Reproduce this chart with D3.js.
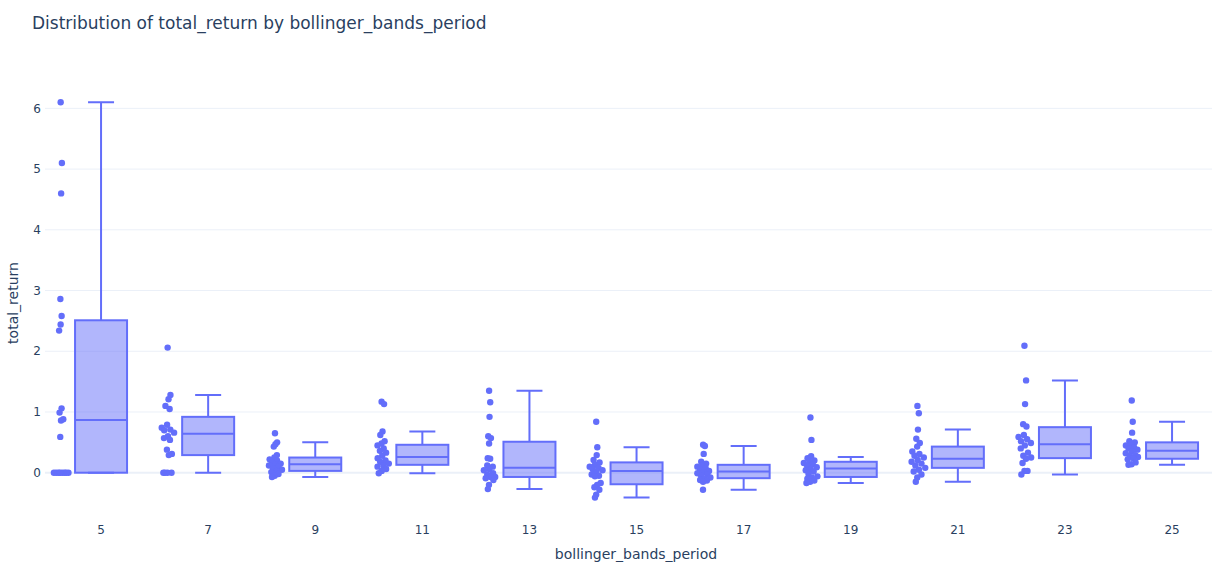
<!DOCTYPE html>
<html>
<head>
<meta charset="utf-8">
<script src="https://cdn.jsdelivr.net/npm/d3@7"></script>
<style>
  html, body { margin: 0; padding: 0; background: #fff; }
  svg { display: block; }
</style>
</head>
<body>
<svg id="chart"></svg>
<script>
// Categories on the x axis
const periods = ["5", "7", "9", "11", "13", "15", "17", "19", "21", "23", "25"];

// total_return values per bollinger_bands_period
const returns5  = [6.10, 5.10, 4.60, 2.86, 2.58, 2.44, 2.34, 1.06, 0.99, 0.88, 0.86, 0.59, 0, 0, 0, 0, 0, 0, 0, 0];
const returns7  = [2.06, 1.28, 1.21, 1.10, 1.05, 0.79, 0.74, 0.71, 0.70, 0.66, 0.60, 0.57, 0.54, 0.38, 0.31, 0.29, 0, 0, 0, 0];
const returns9  = [0.65, 0.50, 0.47, 0.43, 0.29, 0.25, 0.22, 0.20, 0.17, 0.15, 0.13, 0.12, 0.10, 0.07, 0.05, 0.03, 0.01, -0.02, -0.05, -0.07];
const returns11 = [1.17, 1.13, 0.68, 0.62, 0.52, 0.48, 0.45, 0.40, 0.36, 0.33, 0.28, 0.24, 0.20, 0.18, 0.15, 0.12, 0.10, 0.06, 0.03, -0.01];
const returns13 = [1.35, 1.16, 0.92, 0.60, 0.57, 0.48, 0.24, 0.23, 0.12, 0.10, 0.06, 0.04, -0.01, -0.03, -0.07, -0.07, -0.09, -0.12, -0.20, -0.27];
const returns15 = [0.84, 0.42, 0.29, 0.21, 0.17, 0.13, 0.10, 0.08, 0.06, 0.04, 0.02, -0.03, -0.05, -0.06, -0.17, -0.20, -0.24, -0.28, -0.36, -0.41];
const returns17 = [0.46, 0.44, 0.31, 0.18, 0.15, 0.12, 0.10, 0.08, 0.05, 0.03, 0.01, -0.01, -0.03, -0.05, -0.08, -0.10, -0.12, -0.13, -0.15, -0.28];
const returns19 = [0.91, 0.54, 0.27, 0.24, 0.20, 0.18, 0.16, 0.14, 0.11, 0.09, 0.06, 0.04, 0.02, -0.02, -0.06, -0.08, -0.10, -0.13, -0.15, -0.17];
const returns21 = [1.10, 0.98, 0.71, 0.56, 0.49, 0.43, 0.35, 0.31, 0.28, 0.25, 0.21, 0.18, 0.15, 0.12, 0.08, 0.05, 0.02, -0.03, -0.08, -0.15];
const returns23 = [2.09, 1.52, 1.13, 0.80, 0.76, 0.62, 0.59, 0.55, 0.52, 0.49, 0.45, 0.40, 0.33, 0.28, 0.25, 0.23, 0.16, 0.03, 0.03, -0.03];
const returns25 = [1.19, 0.84, 0.66, 0.52, 0.50, 0.48, 0.45, 0.42, 0.40, 0.38, 0.35, 0.32, 0.29, 0.27, 0.26, 0.24, 0.22, 0.17, 0.14, 0.13];

// Box statistics per period
const lowerFences = [0, 0, -0.07, -0.01, -0.27, -0.41, -0.28, -0.17, -0.15, -0.03, 0.13];
const q1s         = [0, 0.29, 0.03, 0.13, -0.07, -0.19, -0.09, -0.07, 0.08, 0.24, 0.23];
const medians     = [0.87, 0.64, 0.14, 0.26, 0.08, 0.03, 0.02, 0.07, 0.23, 0.47, 0.36];
const q3s         = [2.51, 0.92, 0.25, 0.46, 0.51, 0.17, 0.13, 0.18, 0.43, 0.75, 0.50];
const upperFences = [6.10, 1.28, 0.50, 0.68, 1.35, 0.42, 0.44, 0.26, 0.71, 1.52, 0.84];

// y ticks
const yTicks = [0, 1, 2, 3, 4, 5, 6];

const width = 1212;
const height = 566;
const color = "#636efa";
const textColor = "#2a3f5f";
const font = "'DejaVu Sans', Verdana, sans-serif";

const svg = d3.select("#chart")
  .attr("width", width)
  .attr("height", height)
  .attr("viewBox", [0, 0, width, height]);

const allReturns = [returns5, returns7, returns9, returns11, returns13, returns15,
                    returns17, returns19, returns21, returns23, returns25];

const groups = periods.map((p, i) => ({
  period: p,
  values: allReturns[i],
  lo: lowerFences[i],
  q1: q1s[i],
  med: medians[i],
  q3: q3s[i],
  hi: upperFences[i]
}));

// X scale (category axis)
const x = d3.scalePoint()
  .domain(periods)
  .range([47.5, 1225.6])
  .padding(0.5);

// Y scale
const y = d3.scaleLinear()
  .domain([-0.614, 6.22])
  .range([510, 95]);

const boxW = 52;
const capW = 26;
const pointOffset = -40;

// Gridlines
svg.append("g")
  .selectAll("line")
  .data(yTicks)
  .join("line")
    .attr("x1", 45)
    .attr("x2", width)
    .attr("y1", d => y(d))
    .attr("y2", d => y(d))
    .attr("stroke", "#ebf0f8")
    .attr("stroke-width", d => d === 0 ? 2 : 1);

// Y tick labels
svg.append("g")
  .selectAll("text")
  .data(yTicks)
  .join("text")
    .attr("x", 41)
    .attr("y", d => y(d))
    .attr("dy", "0.35em")
    .attr("text-anchor", "end")
    .attr("fill", textColor)
    .style("font-family", font)
    .style("font-size", "12px")
    .text(d => d);

// X tick labels
svg.append("g")
  .selectAll("text")
  .data(periods)
  .join("text")
    .attr("x", d => x(d))
    .attr("y", 534)
    .attr("text-anchor", "middle")
    .attr("fill", textColor)
    .style("font-family", font)
    .style("font-size", "12px")
    .text(d => d);

// Boxes
const box = svg.append("g")
  .selectAll("g")
  .data(groups)
  .join("g")
    .attr("transform", d => `translate(${x(d.period)},0)`);

// whiskers
box.append("path")
  .attr("fill", "none")
  .attr("stroke", color)
  .attr("stroke-width", 2)
  .attr("d", d => `M0,${y(d.q3)}V${y(d.hi)}M${-capW / 2},${y(d.hi)}H${capW / 2}` +
                  `M0,${y(d.q1)}V${y(d.lo)}M${-capW / 2},${y(d.lo)}H${capW / 2}`);

box.append("rect")
  .attr("x", -boxW / 2)
  .attr("width", boxW)
  .attr("y", d => y(d.q3))
  .attr("height", d => y(d.q1) - y(d.q3))
  .attr("fill", "rgba(99,110,250,0.5)")
  .attr("stroke", color)
  .attr("stroke-width", 2);

box.append("line")
  .attr("x1", -boxW / 2)
  .attr("x2", boxW / 2)
  .attr("y1", d => y(d.med))
  .attr("y2", d => y(d.med))
  .attr("stroke", color)
  .attr("stroke-width", 2);

// Points, jittered sideways by local density
box.each(function(d) {
  const py = d.values.map(v => y(v));
  const dens = py.map(a => py.filter(b => Math.abs(a - b) < 7).length);
  const maxD = d3.max(dens);
  d3.select(this).append("g")
    .selectAll("circle")
    .data(d.values)
    .join("circle")
      .attr("cx", (v, i) => pointOffset + 8 * (dens[i] / maxD) * (((i * 0.618034 + 0.31) % 1) * 2 - 1))
      .attr("cy", v => y(v))
      .attr("r", 3.2)
      .attr("fill", color);
});

// Axis titles
svg.append("text")
  .attr("x", 636)
  .attr("y", 559)
  .attr("text-anchor", "middle")
  .attr("fill", textColor)
  .style("font-family", font)
  .style("font-size", "14px")
  .text("bollinger_bands_period");

svg.append("text")
  .attr("transform", "rotate(-90)")
  .attr("x", -303)
  .attr("y", 18)
  .attr("text-anchor", "middle")
  .attr("fill", textColor)
  .style("font-family", font)
  .style("font-size", "14px")
  .text("total_return");

// Title
svg.append("text")
  .attr("x", 32)
  .attr("y", 29)
  .attr("fill", textColor)
  .style("font-family", font)
  .style("font-size", "17px")
  .text("Distribution of total_return by bollinger_bands_period");
</script>
</body>
</html>
